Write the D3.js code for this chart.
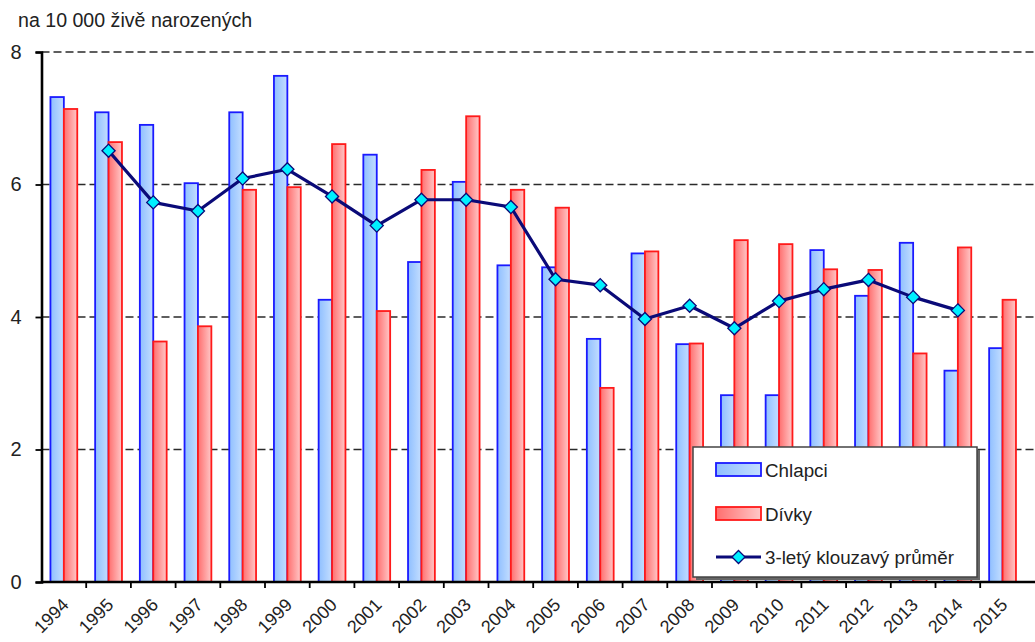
<!DOCTYPE html>
<html>
<head>
<meta charset="utf-8">
<script src="https://cdn.jsdelivr.net/npm/d3@7"></script>
<style>
  html, body { margin: 0; padding: 0; background: #fff; }
  svg { display: block; }
  text { font-family: "Liberation Sans", Arial, sans-serif; fill: #222; }
</style>
</head>
<body>
<svg id="chart" width="1035" height="642"></svg>
<script>
// Years on the category axis
const years = ["1994","1995","1996","1997","1998","1999","2000","2001","2002","2003","2004",
               "2005","2006","2007","2008","2009","2010","2011","2012","2013","2014","2015"];

// Rate per 10 000 live births
const chlapci = [7.32,7.09,6.90,6.02,7.09,7.64,4.26,6.45,4.83,6.04,4.78,
                 4.75,3.67,4.96,3.59,2.82,2.82,5.01,4.32,5.12,3.19,3.53];
const divky   = [7.14,6.64,3.63,3.86,5.92,5.96,6.61,4.09,6.22,7.03,5.92,
                 5.65,2.93,4.99,3.60,5.16,5.10,4.72,4.71,3.45,5.05,4.26];

// 3-year moving average, defined for 1995–2014
const prumerYears = years.slice(1, 21);
const prumer = [6.51,5.73,5.60,6.09,6.23,5.82,5.38,5.77,5.77,5.66,
                4.57,4.48,3.97,4.17,3.83,4.24,4.42,4.56,4.30,4.10];

const yTicks = [0, 2, 4, 6, 8];

const svg = d3.select("#chart");
const plotLeft = 41.5, plotRight = 1024.9, plotTop = 52, plotBottom = 582;

const x = d3.scaleBand().domain(years).range([plotLeft, plotRight])
  .paddingInner(0.4).paddingOuter(0.2);
const xCat = d3.scaleBand().domain(years).range([plotLeft, plotRight]);
const xSub = d3.scaleBand().domain(["c", "d"]).range([0, x.bandwidth()]);
const y = d3.scaleLinear().domain([0, 8]).range([plotBottom, plotTop]);

// Gradients for the bars
const defs = svg.append("defs");
const gBlue = defs.append("linearGradient").attr("id", "gBlue").attr("x1", 0).attr("x2", 1).attr("y1", 0).attr("y2", 0);
gBlue.append("stop").attr("offset", 0).attr("stop-color", "#8fbfff");
gBlue.append("stop").attr("offset", 1).attr("stop-color", "#c4deff");
const gRed = defs.append("linearGradient").attr("id", "gRed").attr("x1", 0).attr("x2", 1).attr("y1", 0).attr("y2", 0);
gRed.append("stop").attr("offset", 0).attr("stop-color", "#ff6e6e");
gRed.append("stop").attr("offset", 1).attr("stop-color", "#ffc8c8");

// Dashed gridlines
svg.append("g").selectAll("line").data(yTicks.filter(d => d > 0)).join("line")
  .attr("x1", plotLeft).attr("x2", 1035)
  .attr("y1", d => y(d)).attr("y2", d => y(d))
  .attr("stroke", "#2a2a2a").attr("stroke-width", 1.7).attr("stroke-dasharray", "8,4");

// Bars
const bars = svg.append("g");
bars.selectAll("rect.c").data(years).join("rect").attr("class", "c")
  .attr("x", d => x(d) + xSub("c"))
  .attr("y", (d, i) => y(chlapci[i]))
  .attr("width", xSub.bandwidth())
  .attr("height", (d, i) => y(0) - y(chlapci[i]))
  .attr("fill", "url(#gBlue)").attr("stroke", "#1a1aff").attr("stroke-width", 1.8);
bars.selectAll("rect.d").data(years).join("rect").attr("class", "d")
  .attr("x", d => x(d) + xSub("d"))
  .attr("y", (d, i) => y(divky[i]))
  .attr("width", xSub.bandwidth())
  .attr("height", (d, i) => y(0) - y(divky[i]))
  .attr("fill", "url(#gRed)").attr("stroke", "#ff1a1a").attr("stroke-width", 1.8);

// Moving average line with diamond markers
const cx = d => xCat(d) + xCat.bandwidth() / 2;
const line = d3.line().x(d => cx(d)).y((d, i) => y(prumer[i]));
svg.append("path").datum(prumerYears)
  .attr("d", line).attr("fill", "none")
  .attr("stroke", "#0a0a78").attr("stroke-width", 3.2).attr("stroke-linejoin", "round");
const diamond = d3.symbol().type(d3.symbolDiamond2).size(110);
svg.append("g").selectAll("path").data(prumerYears).join("path")
  .attr("transform", (d, i) => `translate(${cx(d)},${y(prumer[i])})`)
  .attr("d", diamond)
  .attr("fill", "#00f0ff").attr("stroke", "#0a0a78").attr("stroke-width", 1.3);

// Y axis
const yAxis = svg.append("g").attr("transform", `translate(${plotLeft},0)`)
  .call(d3.axisLeft(y).tickValues(yTicks).tickSize(6).tickPadding(14).tickFormat(d3.format("d")));
yAxis.select(".domain").attr("stroke", "#000").attr("stroke-width", 2.6);
yAxis.selectAll(".tick line").attr("stroke", "#000").attr("stroke-width", 1.8);
yAxis.selectAll(".tick text").attr("font-size", 20).attr("fill", "#2a2a3a")
  .attr("font-family", "Liberation Sans, Arial, sans-serif");

// X axis: ticks between categories
const xAxisG = svg.append("g");
xAxisG.append("line").attr("x1", plotLeft).attr("x2", 1035).attr("y1", plotBottom).attr("y2", plotBottom)
  .attr("stroke", "#000").attr("stroke-width", 2.6);
xAxisG.selectAll("line.tk").data(years.slice(1)).join("line").attr("class", "tk")
  .attr("x1", d => xCat(d)).attr("x2", d => xCat(d))
  .attr("y1", plotBottom).attr("y2", plotBottom + 6)
  .attr("stroke", "#000").attr("stroke-width", 1.8);
xAxisG.selectAll("text").data(years).join("text")
  .attr("transform", d => `translate(${cx(d) + 6},${plotBottom + 24}) rotate(-45)`)
  .attr("text-anchor", "end")
  .attr("font-size", 18)
  .text(d => d);

// Title
svg.append("text").attr("x", 18).attr("y", 27).attr("font-size", 19.6).text("na 10 000 živě narozených");

// Legend
const lg = svg.append("g");
const lx = 693, ly = 447, lw = 284, lh = 130;
lg.append("rect").attr("x", lx + 3).attr("y", ly + 3).attr("width", lw).attr("height", lh).attr("fill", "#666");
lg.append("rect").attr("x", lx).attr("y", ly).attr("width", lw).attr("height", lh)
  .attr("fill", "#fff").attr("stroke", "#444").attr("stroke-width", 1.5);
const items = [
  { label: "Chlapci", type: "c", yy: 470 },
  { label: "Dívky", type: "d", yy: 514 },
  { label: "3-letý klouzavý průměr", type: "l", yy: 557 }
];
items.forEach(it => {
  if (it.type === "l") {
    lg.append("line").attr("x1", 716).attr("x2", 761).attr("y1", it.yy).attr("y2", it.yy)
      .attr("stroke", "#0a0a78").attr("stroke-width", 3.2);
    lg.append("path").attr("transform", `translate(738.5,${it.yy})`).attr("d", diamond)
      .attr("fill", "#00f0ff").attr("stroke", "#0a0a78").attr("stroke-width", 1.3);
  } else {
    lg.append("rect").attr("x", 716).attr("y", it.yy - 7).attr("width", 45).attr("height", 13)
      .attr("fill", it.type === "c" ? "url(#gBlue)" : "url(#gRed)")
      .attr("stroke", it.type === "c" ? "#1a1aff" : "#ff1a1a").attr("stroke-width", 1.8);
  }
  lg.append("text").attr("x", 765).attr("y", it.yy + 7).attr("font-size", 18.8).text(it.label);
});
</script>
</body>
</html>
